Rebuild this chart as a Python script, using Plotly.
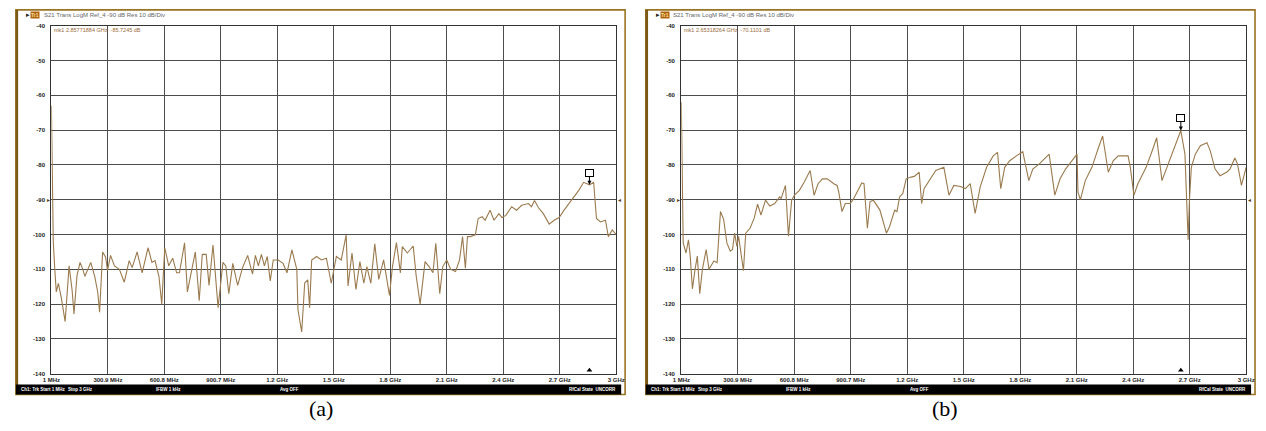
import plotly.graph_objects as go

W, H = 1266, 431

# ---------------- data (GHz, dB) ----------------
freq_a_ghz = [0.001, 0.006, 0.011, 0.019, 0.027, 0.038, 0.053, 0.074, 0.095, 0.111, 0.121, 0.137,
              0.153, 0.168, 0.179, 0.210, 0.231, 0.247, 0.257, 0.273, 0.289, 0.299, 0.315, 0.336,
              0.362, 0.388, 0.414, 0.430, 0.456, 0.483, 0.514, 0.535, 0.551, 0.572, 0.587, 0.603,
              0.624, 0.645, 0.666, 0.681, 0.708, 0.723, 0.744, 0.765, 0.786, 0.802, 0.823, 0.838,
              0.859, 0.886, 0.912, 0.927, 0.943, 0.964, 0.990, 1.016, 1.043, 1.069, 1.084, 1.100,
              1.116, 1.132, 1.147, 1.163, 1.179, 1.205, 1.231, 1.252, 1.278, 1.304, 1.310, 1.330,
              1.346, 1.362, 1.372, 1.383, 1.409, 1.435, 1.461, 1.487, 1.514, 1.540, 1.566, 1.576,
              1.597, 1.618, 1.639, 1.660, 1.676, 1.697, 1.718, 1.739, 1.765, 1.781, 1.796, 1.812,
              1.833, 1.854, 1.864, 1.891, 1.922, 1.938, 1.959, 1.985, 2.006, 2.027, 2.042, 2.063,
              2.079, 2.100, 2.121, 2.147, 2.168, 2.184, 2.199, 2.210, 2.225, 2.252, 2.267, 2.288,
              2.304, 2.330, 2.351, 2.377, 2.393, 2.414, 2.445, 2.471, 2.498, 2.534, 2.550, 2.566,
              2.587, 2.613, 2.644, 2.670, 2.697, 2.723, 2.749, 2.775, 2.801, 2.827, 2.848, 2.858,
              2.880, 2.895, 2.916, 2.943, 2.958, 2.979, 3.000]
s21_a_db = [-63.0, -86.0, -102.0, -110.0, -116.5, -114.0, -118.0, -125.0, -109.0, -116.0, -122.8, -111.8,
            -108.0, -110.0, -112.0, -108.0, -112.0, -116.5, -122.3, -105.0, -106.5, -110.4, -106.0, -109.0,
            -110.0, -113.7, -107.5, -109.5, -105.0, -111.0, -103.8, -108.0, -107.5, -112.0, -120.0, -103.8,
            -109.0, -106.8, -111.0, -111.0, -102.4, -116.5, -111.0, -105.0, -119.0, -105.7, -105.7, -114.6,
            -103.0, -121.0, -108.0, -109.0, -117.0, -108.3, -114.6, -109.5, -106.0, -111.4, -106.0, -109.0,
            -105.7, -109.0, -106.3, -113.3, -107.3, -107.3, -108.3, -111.0, -104.4, -110.0, -121.5, -128.0,
            -113.9, -113.0, -121.0, -107.3, -106.3, -107.3, -106.8, -114.0, -106.3, -107.3, -100.1, -114.8,
            -105.3, -115.8, -107.8, -114.0, -109.2, -114.0, -102.7, -112.9, -107.3, -112.0, -117.5, -109.2,
            -102.3, -111.0, -103.5, -105.3, -103.3, -112.0, -120.0, -107.8, -109.2, -111.0, -102.5, -117.0,
            -109.2, -107.3, -110.0, -110.6, -107.3, -100.6, -109.7, -100.6, -100.6, -100.1, -95.4, -94.9,
            -95.9, -93.0, -95.9, -94.0, -95.1, -94.5, -92.0, -93.0, -91.6, -91.1, -92.0, -90.2,
            -92.3, -94.0, -97.0, -95.9, -95.1, -93.0, -91.1, -89.4, -87.3, -85.0, -85.5, -85.7245,
            -85.0, -95.4, -96.4, -95.9, -100.6, -98.7, -100.0]

freq_b_ghz = [0.001, 0.005, 0.011, 0.026, 0.039, 0.048, 0.060, 0.074, 0.086, 0.099, 0.113, 0.133,
              0.148, 0.174, 0.191, 0.209, 0.226, 0.243, 0.261, 0.273, 0.284, 0.296, 0.305, 0.331,
              0.343, 0.366, 0.388, 0.406, 0.424, 0.448, 0.471, 0.497, 0.523, 0.531, 0.554, 0.570,
              0.587, 0.602, 0.628, 0.654, 0.685, 0.706, 0.727, 0.750, 0.776, 0.811, 0.828, 0.837,
              0.854, 0.872, 0.898, 0.916, 0.933, 0.959, 0.971, 0.989, 1.003, 1.020, 1.055, 1.090,
              1.107, 1.134, 1.146, 1.160, 1.177, 1.195, 1.221, 1.238, 1.264, 1.277, 1.290, 1.317,
              1.352, 1.395, 1.422, 1.448, 1.483, 1.509, 1.535, 1.561, 1.588, 1.622, 1.657, 1.680,
              1.697, 1.718, 1.745, 1.780, 1.814, 1.846, 1.867, 1.902, 1.928, 1.954, 1.984, 2.012,
              2.041, 2.081, 2.102, 2.107, 2.120, 2.146, 2.181, 2.216, 2.238, 2.268, 2.294, 2.321,
              2.373, 2.385, 2.404, 2.425, 2.469, 2.504, 2.525, 2.553, 2.574, 2.609, 2.635, 2.653,
              2.675, 2.687, 2.692, 2.699, 2.709, 2.730, 2.757, 2.792, 2.809, 2.835, 2.861, 2.896,
              2.914, 2.940, 2.954, 2.975, 3.000]
s21_b_db = [-62.0, -88.0, -102.4, -105.3, -101.5, -106.0, -115.6, -110.0, -106.2, -117.0, -110.0, -104.3,
            -110.0, -107.6, -108.1, -93.4, -95.7, -102.4, -104.8, -104.3, -99.6, -103.4, -100.5, -110.4,
            -99.6, -98.2, -95.3, -91.3, -94.4, -90.1, -91.8, -91.1, -89.2, -89.7, -85.9, -100.5,
            -90.1, -88.7, -87.3, -84.9, -81.6, -88.7, -85.4, -84.0, -84.0, -85.4, -85.9, -87.8,
            -93.4, -91.1, -91.1, -89.7, -87.8, -85.2, -85.4, -98.2, -90.6, -90.1, -92.9, -99.6,
            -97.7, -93.0, -93.4, -89.2, -88.2, -84.0, -83.5, -83.3, -82.1, -91.1, -86.8, -84.5,
            -81.6, -80.7, -88.7, -85.9, -86.2, -86.8, -85.4, -93.9, -86.3, -80.7, -77.4, -76.4,
            -86.8, -80.7, -78.8, -77.4, -76.2, -84.5, -81.2, -79.7, -78.3, -76.9, -88.7, -84.0,
            -81.2, -78.3, -76.9, -87.8, -90.0, -84.5, -80.7, -75.0, -71.7, -82.1, -78.8, -77.4,
            -77.4, -80.7, -88.7, -85.4, -80.7, -75.5, -72.2, -84.5, -81.6, -76.4, -72.6, -70.1101,
            -76.9, -97.7, -101.5, -90.1, -80.7, -76.9, -74.5, -73.6, -75.9, -81.2, -83.1, -82.1,
            -81.2, -78.0, -79.7, -85.9, -80.7]

x_tick_ghz = [0.001, 0.3009, 0.6008, 0.9007, 1.2006, 1.5005, 1.8004, 2.1003, 2.4002, 2.7001, 3.0]
x_tick_text = ["1 MHz", "300.9 MHz", "600.8 MHz", "900.7 MHz", "1.2 GHz", "1.5 GHz",
               "1.8 GHz", "2.1 GHz", "2.4 GHz", "2.7 GHz", "3 GHz"]
y_tick_db = [-40, -50, -60, -70, -80, -90, -100, -110, -120, -130, -140]
ref_level_db = -90

marker_a_ghz, marker_a_db = 2.85771884, -85.7245
marker_b_ghz, marker_b_db = 2.65318264, -70.1101

header_text = "S21 Trans LogM Ref_4 -90 dB Res 10 dB/Div"
marker_a_text = "mk1 2.85771884 GHz  -85.7245 dB"
marker_b_text = "mk1 2.65318264 GHz  -70.1101 dB"
status_texts = ["Ch1: Trk Start 1 MHz", "Stop 3 GHz", "IFBW 1 kHz", "Avg OFF", "RfCal State  UNCORR"]

# ---------------- helpers ----------------
def px(x):
    return x / W

def py(y):
    return 1 - y / H

TRACE = "#9a7a4e"
GRID = "#4d4d4d"
FRAME = "#9a7424"
TICKFONT = dict(size=6, family="Liberation Sans", color="#222222", weight="bold")

fig = go.Figure()
fig.add_trace(go.Scatter(x=freq_a_ghz, y=s21_a_db, mode="lines",
                         line=dict(color=TRACE, width=1.1), xaxis="x", yaxis="y"))
fig.add_trace(go.Scatter(x=freq_b_ghz, y=s21_b_db, mode="lines",
                         line=dict(color=TRACE, width=1.1), xaxis="x2", yaxis="y2"))

# marker triangles at bottom of the grid
fig.add_trace(go.Scatter(x=[marker_a_ghz], y=[-139], mode="markers", cliponaxis=False,
                         marker=dict(symbol="triangle-up", size=5, color="black"),
                         xaxis="x", yaxis="y"))
fig.add_trace(go.Scatter(x=[marker_b_ghz], y=[-139], mode="markers", cliponaxis=False,
                         marker=dict(symbol="triangle-up", size=5, color="black"),
                         xaxis="x2", yaxis="y2"))

ydom = [py(376), py(23)]
def xax(dom, anchor):
    return dict(domain=dom, range=[0.001, 3.0], tickvals=x_tick_ghz, ticktext=x_tick_text,
                showgrid=True, gridcolor=GRID, gridwidth=1.4, zeroline=False,
                showline=True, linecolor="#333333", linewidth=1.4, mirror=True,
                ticks="", tickfont=TICKFONT, fixedrange=True, ticklabelstandoff=0,
                anchor=anchor)

def yax(anchor):
    return dict(domain=ydom, range=[-140, -40], tickvals=y_tick_db,
                ticktext=[str(v) for v in y_tick_db],
                showgrid=True, gridcolor=GRID, gridwidth=1.4, zeroline=False,
                showline=True, linecolor="#333333", linewidth=1.4, mirror=True,
                ticks="", tickfont=TICKFONT, fixedrange=True, anchor=anchor,
                ticklabelstandoff=4)

shapes = []
annotations = []
status_x = [10, 58, 147, 273, 566]
for off, mk_text, (mkx, mky), xr, yr in [
        (0, marker_a_text, (marker_a_ghz, marker_a_db), "x", "y"),
        (639, marker_b_text, (marker_b_ghz, marker_b_db), "x2", "y2")]:
    # outer instrument frame
    shapes.append(dict(type="rect", xref="paper", yref="paper",
                       x0=px(7 + off), x1=px(625 + off), y0=py(397), y1=py(7),
                       line=dict(color=FRAME, width=1.6), layer="below"))
    shapes.append(dict(type="line", xref="paper", yref="paper",
                       x0=px(8 + off), x1=px(8 + off), y0=py(397), y1=py(7),
                       line=dict(color="#7a5a14", width=2.5)))
    # status bar
    shapes.append(dict(type="rect", xref="paper", yref="paper",
                       x0=px(7 + off), x1=px(621 + off), y0=py(397), y1=py(387),
                       fillcolor="black", line=dict(width=0)))
    # header
    annotations.append(dict(xref="paper", yref="paper", x=px(15 + off), y=py(12),
                            text="▸", showarrow=False, xanchor="left", yanchor="middle",
                            font=dict(size=7, color="#222", family="DejaVu Sans")))
    annotations.append(dict(xref="paper", yref="paper", x=px(21 + off), y=py(12),
                            text="Tr1", showarrow=False, xanchor="left", yanchor="middle",
                            bgcolor="#b0620c", borderpad=0,
                            font=dict(size=5, color="#f4e0a0", family="Liberation Sans", weight="bold")))
    annotations.append(dict(xref="paper", yref="paper", x=px(33 + off), y=py(12),
                            text=header_text, showarrow=False, xanchor="left", yanchor="middle",
                            font=dict(size=6, color="#666666", family="Liberation Sans")))
    # marker readout
    annotations.append(dict(xref="paper", yref="paper", x=px(44 + off), y=py(27),
                            text=mk_text, showarrow=False, xanchor="left", yanchor="middle",
                            font=dict(size=5.5, color="#9a6a3a", family="Liberation Sans")))
    # marker flag
    annotations.append(dict(xref=xr, yref=yr, x=mkx, y=mky, text=" ", showarrow=True,
                            ax=0, ay=-12, arrowhead=2, arrowsize=0.8, arrowwidth=1,
                            arrowcolor="black", bordercolor="black", borderwidth=1,
                            width=7, height=6, borderpad=0, bgcolor="white",
                            font=dict(size=4)))
    # reference level indicators
    annotations.append(dict(xref="paper", yref=yr, x=px(40 + off), y=ref_level_db,
                            text="▸", showarrow=False, xanchor="center", yanchor="middle",
                            font=dict(size=6, color="#5a3a10", family="DejaVu Sans")))
    annotations.append(dict(xref="paper", yref=yr, x=px(619 + off), y=ref_level_db,
                            text="◂", showarrow=False, xanchor="center", yanchor="middle",
                            font=dict(size=6, color="#5a3a10", family="DejaVu Sans")))
    # status bar texts
    sb_font = dict(size=4.5, color="white", family="Liberation Sans", weight="bold")
    for sx, stext in zip(status_x, status_texts):
        annotations.append(dict(xref="paper", yref="paper", x=px(sx + off), y=py(392),
                                text=stext, showarrow=False, xanchor="left", yanchor="middle",
                                font=sb_font))

annotations.append(dict(xref="paper", yref="paper", x=px(317), y=py(411), text="(a)",
                        showarrow=False, xanchor="center", yanchor="middle",
                        font=dict(size=22, color="black", family="Liberation Serif")))
annotations.append(dict(xref="paper", yref="paper", x=px(950), y=py(411), text="(b)",
                        showarrow=False, xanchor="center", yanchor="middle",
                        font=dict(size=22, color="black", family="Liberation Serif")))

fig.update_layout(
    width=W, height=H, margin=dict(l=0, r=0, t=0, b=0),
    paper_bgcolor="white", plot_bgcolor="white", showlegend=False,
    xaxis=xax([px(43), px(616)], "y"), yaxis=yax("x"),
    xaxis2=xax([px(682), px(1255)], "y2"), yaxis2=yax("x2"),
    shapes=shapes, annotations=annotations,
)

fig.write_html("out.html",
               config={"displayModeBar": False},
               post_script="document.body.style.margin='0px';"
                           "document.documentElement.style.overflow='hidden';")
